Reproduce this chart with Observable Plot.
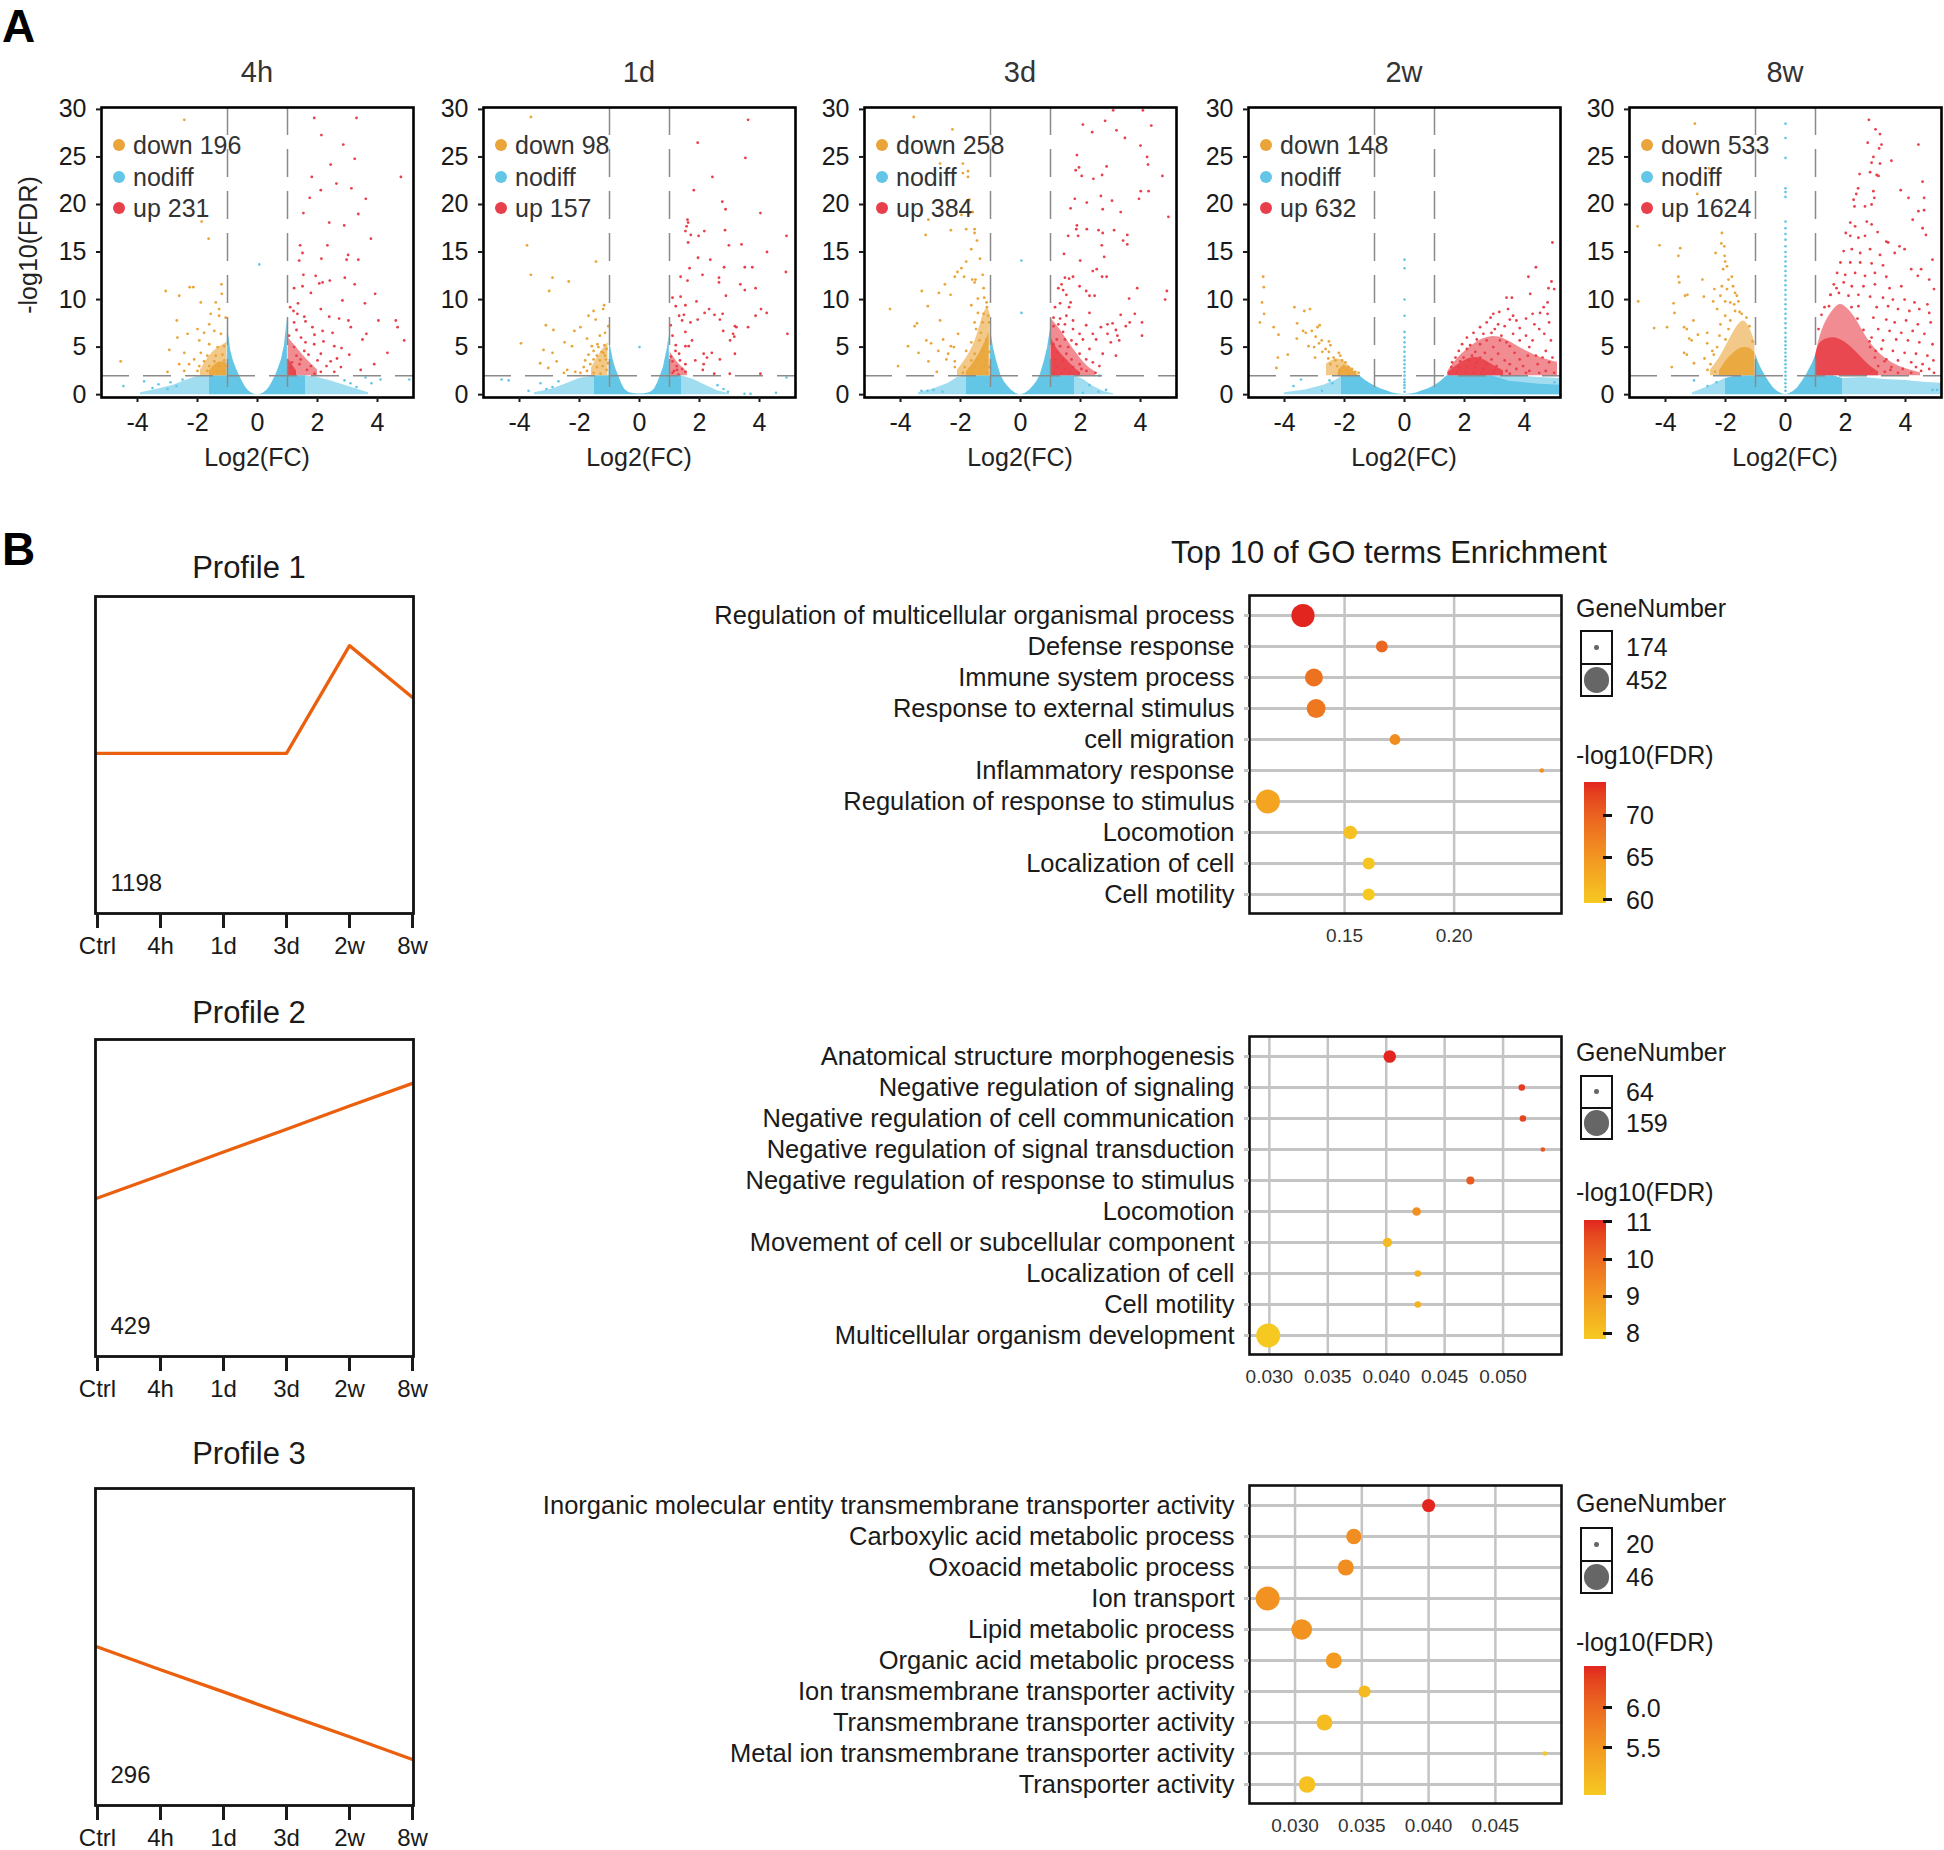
<!DOCTYPE html>
<html><head><meta charset="utf-8">
<script src="https://cdn.jsdelivr.net/npm/d3@7"></script>
<script src="https://cdn.jsdelivr.net/npm/@observablehq/plot@0.6"></script>
<style>
body{margin:0;background:#fff;font-family:"Liberation Sans",Arial,Helvetica,sans-serif;}
#root{position:relative;width:1944px;height:1850px;overflow:hidden;background:#fff;}
</style></head>
<body><div id="root"></div>
<script>
// ---------------- DATA: volcano panels ----------------
const panelNames = ["4h","1d","3d","2w","8w"];
const downCounts = [196, 98, 258, 148, 533];
const upCounts = [231, 157, 384, 632, 1624];

// dense nodiff region: [log2FC, upper -log10FDR]
const env4h = [[-1.6,2.0],[-1.3,2.0],[-1.01,2.0],[-1.0,7.0],[-0.95,6.0],[-0.89,4.6],[-0.8,3.5],[-0.7,2.7],[-0.61,2.07],[-0.5,1.35],[-0.4,0.8],[-0.3,0.42],[-0.2,0.18],[-0.1,0.05],[0,0],[0.1,0.05],[0.2,0.18],[0.3,0.42],[0.4,0.8],[0.5,1.35],[0.61,2.07],[0.7,2.8],[0.8,3.7],[0.9,5.2],[0.94,6.4],[0.99,7.9],[1.0,2.0],[1.3,2.0],[1.6,2.0]];
const env1d = [[-1.5,2.0],[-1.01,2.0],[-1.0,5.7],[-0.93,4.5],[-0.88,3.7],[-0.8,2.8],[-0.71,2.1],[-0.6,1.2],[-0.5,0.6],[-0.4,0.3],[-0.3,0.18],[-0.15,0.1],[0,0.08],[0.15,0.1],[0.3,0.18],[0.4,0.3],[0.5,0.6],[0.6,1.2],[0.71,2.1],[0.8,2.9],[0.85,3.7],[0.92,4.7],[0.99,6.2],[1.0,2.0],[1.4,2.0]];
const env3d = [[-1.8,2.0],[-1.01,2.0],[-1.0,6.9],[-0.9,4.9],[-0.8,3.6],[-0.66,2.1],[-0.55,1.4],[-0.44,0.94],[-0.3,0.45],[-0.15,0.12],[0,0],[0.15,0.12],[0.3,0.45],[0.44,0.94],[0.55,1.4],[0.66,2.1],[0.8,3.6],[0.9,4.9],[1.0,6.9],[1.01,2.0],[1.8,2.0]];
const env2w = [[-2.1,1.9],[-1.9,2.0],[-1.5,2.0],[-1.3,1.5],[-1.1,1.1],[-1.0,0.94],[-0.8,0.62],[-0.55,0.35],[-0.4,0.18],[-0.2,0.06],[0,0.02],[0.2,0.06],[0.4,0.18],[0.55,0.35],[0.8,0.62],[1.0,0.94],[1.2,1.35],[1.42,2.0],[2.9,2.0],[3.5,1.4],[4.5,1.1],[5.2,1.0]];
const env8w = [[-2.0,1.7],[-1.6,2.0],[-1.01,2.0],[-1.0,4.3],[-0.9,3.4],[-0.8,2.7],[-0.69,2.1],[-0.55,1.35],[-0.4,0.7],[-0.25,0.3],[-0.1,0.06],[0,0.02],[0.1,0.06],[0.25,0.3],[0.4,0.7],[0.55,1.35],[0.7,2.1],[0.8,2.7],[0.9,3.3],[1.0,4.1],[1.01,2.0],[1.6,2.0],[1.9,1.7]];

// sparser nodiff band: [log2FC, upper -log10FDR, side]
const halo4h = [[-3.9,0.2,"L"],[-3.3,0.6,"L"],[-2.8,1.0,"L"],[-2.4,1.5,"L"],[-2.0,1.9,"L"],[-1.6,2.0,"L"],[1.6,2.0,"R"],[2.0,1.8,"R"],[2.4,1.5,"R"],[2.8,1.1,"R"],[3.2,0.7,"R"],[3.7,0.2,"R"]];
const halo1d = [[-3.5,0.2,"L"],[-2.9,0.6,"L"],[-2.4,1.2,"L"],[-2.0,1.7,"L"],[-1.5,2.0,"L"],[1.4,2.0,"R"],[1.8,1.6,"R"],[2.2,1.0,"R"],[2.6,0.4,"R"],[3.0,0.1,"R"]];
const halo3d = [[-3.4,0.2,"L"],[-2.9,0.6,"L"],[-2.4,1.2,"L"],[-2.1,1.8,"L"],[-1.8,2.0,"L"],[1.8,2.0,"R"],[2.1,1.6,"R"],[2.4,0.9,"R"],[2.8,0.3,"R"],[3.1,0.1,"R"]];
const halo2w = [[-4.0,0.2,"L"],[-3.3,0.5,"L"],[-2.7,1.0,"L"],[-2.3,1.5,"L"],[-2.1,1.9,"L"],[2.9,2.0,"R"],[3.5,2.0,"R"],[4.0,1.9,"R"],[4.5,1.8,"R"],[5.2,1.7,"R"]];
const halo8w = [[-3.1,0.2,"L"],[-2.6,0.8,"L"],[-2.2,1.4,"L"],[-2.0,1.7,"L"],[1.9,1.7,"R"],[2.6,1.8,"R"],[3.3,1.6,"R"],[4.0,1.5,"R"],[4.6,1.3,"R"],[5.2,1.2,"R"]];

// isolated nodiff genes
const blue4h = [[-4.47,0.9],[-3.78,1.4],[-3.5,0.7],[-3.3,1.1],[-3.0,0.6],[-2.9,1.3],[-2.7,0.9],[-2.5,1.6],[2.9,1.5],[3.1,1.2],[3.3,0.8],[3.6,1.8],[3.8,1.2],[4.1,1.6],[5.06,1.6],[0.06,13.7]];
const blue1d = [[-4.6,1.6],[-4.36,1.5],[-3.7,0.4],[-3.3,1.2],[-3.1,0.6],[-2.9,0.8],[-2.7,1.4],[2.6,1.0],[2.8,0.6],[2.95,0.3],[3.5,0.1],[3.7,0.1],[4.55,0.2],[4.9,1.8],[0.0,5.0]];
const blue3d = [[-3.3,0.4],[-3.1,0.4],[-2.9,0.5],[-2.6,0.3],[2.08,0.2],[2.3,1.0],[2.6,0.3],[2.85,0.5],[2.63,2.0],[0.03,14.1],[0.03,8.6]];
const blue2w = [[-3.7,0.9],[-3.45,1.6],[-2.75,0.4],[-2.5,1.5],[-2.4,1.2],[0,0.3],[0,0.7],[0,1.0],[0,1.3],[0,1.6],[0,2.0],[0,2.4],[0,2.8],[0,3.2],[0,3.6],[0,4.0],[0,4.5],[0,5.0],[0,5.5],[0,6.0],[0,6.6],[0,8.3],[0,10.0],[0,13.3],[0,14.2],[5.0,1.3],[4.95,0.8]];
const blue8w = [[-3.05,1.5],[-2.6,0.9],[-2.3,1.3],[0,0.4],[0,0.8],[0,1.2],[0,1.6],[0,2.0],[0,2.4],[0,2.8],[0,3.2],[0,3.6],[0,4.0],[0,4.4],[0,4.8],[0,5.2],[0,5.6],[0,6.0],[0,6.5],[0,7.0],[0,7.5],[0,8.0],[0,8.5],[0,9.0],[0,9.5],[0,10.0],[0,10.5],[0,11.0],[0,11.5],[0,12.0],[0,12.5],[0,13.0],[0,13.5],[0,14.0],[0,14.5],[0,15.0],[0,15.6],[0,16.3],[0,16.9],[0,17.5],[0,18.2],[0,20.8],[0,21.3],[0,21.7],[0,24.9],[0,27.0],[0,28.5],[4.9,0.5],[5.05,0.5]];

// dense cores of significant genes: [log2FC, low, high]  (inner = very dense, haze = moderately dense)
const downCore4h = [[-1.6,2.0,2.5],[-1.4,2.0,3.3],[-1.2,2.0,3.5],[-1.02,2.0,3.3]];
const downHaze4h = [[-1.9,2.0,2.6],[-1.6,2.0,4.2],[-1.3,2.0,5.0],[-1.02,2.0,5.5]];
const upCore4h = [[1.02,2.0,3.8],[1.15,2.0,3.2],[1.3,2.0,2.5]];
const upHaze4h = [[1.02,2.0,6.0],[1.3,2.0,5.0],[1.6,2.0,3.8],[2.0,2.0,2.6]];
const downCore1d = [];
const downHaze1d = [[-1.6,2.0,2.8],[-1.3,2.0,4.5],[-1.05,2.0,5.5]];
const upCore1d = [];
const upHaze1d = [[1.02,2.0,4.5],[1.3,2.0,3.2],[1.6,2.0,2.4]];
const downCore3d = [[-1.8,2.0,2.4],[-1.5,2.0,3.6],[-1.25,2.0,5.0],[-1.05,2.0,6.5]];
const downHaze3d = [[-2.1,2.0,2.6],[-1.8,2.0,3.8],[-1.5,2.0,5.5],[-1.3,2.0,8.0],[-1.1,2.0,9.5],[-1.02,2.0,8.5]];
const upCore3d = [[1.02,2.0,6.0],[1.2,2.0,4.8],[1.5,2.0,3.8],[1.8,2.0,2.8],[2.0,2.0,2.3]];
const upHaze3d = [[1.02,2.0,8.0],[1.3,2.0,7.0],[1.6,2.0,5.5],[1.9,2.0,4.2],[2.2,2.0,3.0],[2.5,2.0,2.4]];
const downCore2w = [[-2.2,2.0,2.6],[-2.0,2.0,3.2],[-1.8,2.0,2.7],[-1.55,2.0,2.1]];
const downHaze2w = [[-2.6,2.0,3.2],[-2.3,2.0,3.9],[-2.0,2.0,3.6],[-1.6,2.0,2.2]];
const upCore2w = [[1.45,2.0,2.3],[1.7,2.0,3.0],[2.0,2.0,3.6],[2.3,2.0,4.0],[2.6,2.0,3.8],[2.9,2.0,3.2],[3.3,2.0,2.5]];
const upHaze2w = [[1.45,2.0,2.5],[1.8,2.0,4.0],[2.1,2.0,4.8],[2.5,2.0,5.8],[2.9,2.0,6.2],[3.3,2.0,6.0],[3.8,2.0,5.0],[4.3,2.0,4.2],[4.8,2.0,3.6],[5.1,2.0,3.4]];
const downCore8w = [[-2.2,2.0,2.5],[-2.0,2.0,3.5],[-1.8,2.0,4.2],[-1.5,2.0,5.0],[-1.2,2.0,5.0],[-1.02,2.0,4.4]];
const downHaze8w = [[-2.5,2.0,2.6],[-2.2,2.0,3.8],[-2.0,2.0,5.0],[-1.8,2.0,6.2],[-1.6,2.0,7.3],[-1.4,2.0,8.0],[-1.2,2.0,7.2],[-1.02,2.0,5.5]];
const upCore8w = [[1.0,2.0,4.0],[1.1,2.0,5.5],[1.4,2.0,6.0],[1.8,2.0,6.0],[2.2,2.0,5.0],[2.5,2.0,4.0],[2.8,2.0,3.0],[3.1,2.0,2.4]];
const upHaze8w = [[1.0,2.0,4.1],[1.2,2.0,6.9],[1.5,2.0,8.6],[1.8,2.0,9.7],[2.0,2.0,9.3],[2.3,2.0,8.3],[2.6,2.0,6.5],[2.9,2.0,5.1],[3.2,2.0,4.1],[3.6,2.0,3.2],[4.0,2.0,2.7],[4.5,2.0,2.3]];

// significant genes [log2FC, -log10FDR]
const down4h = [[-2.44,28.9],[-1.86,18.2],[-1.63,16.4],[-3.06,10.9],[-2.26,11.3],[-2.14,11.3],[-2.61,10.4],[-1.2,11.6],[-1.19,10.6],[-1.39,9.7],[-1.89,9.7],[-1.28,9.0],[-1.56,8.5],[-1.06,8.1],[-2.69,7.8],[-1.28,8.3],[-1.61,7.4],[-2.0,6.9],[-2.33,6.4],[-1.78,6.5],[-1.44,6.7],[-1.22,6.4],[-2.67,6.0],[-1.94,5.7],[-1.61,5.3],[-1.33,5.0],[-1.11,5.1],[-2.94,4.7],[-2.44,4.4],[-1.89,4.4],[-1.67,4.1],[-1.39,4.1],[-1.17,4.2],[-2.11,3.7],[-1.78,3.5],[-1.44,3.5],[-1.11,3.6],[-2.61,3.2],[-2.28,3.2],[-1.94,3.0],[-1.61,3.0],[-1.28,3.0],[-1.0,3.0],[-3.0,2.4],[-2.44,2.5],[-2.0,2.5],[-1.67,2.5],[-1.33,2.5],[-1.11,2.4],[-4.56,3.5]];
const up4h = [[1.89,29.1],[3.3,29.1],[2.13,27.3],[2.86,26.3],[3.24,24.8],[2.44,24.2],[1.81,22.9],[4.78,22.9],[2.63,22.2],[3.13,21.7],[2.11,21.5],[1.74,20.7],[3.61,20.6],[1.53,19.1],[3.36,19.0],[2.39,18.1],[2.89,17.8],[3.78,16.4],[1.42,15.7],[2.33,15.7],[1.5,14.9],[3.02,14.7],[3.36,14.2],[2.13,14.3],[1.39,14.1],[2.97,14.2],[1.53,12.6],[1.94,12.5],[2.91,12.3],[2.41,12.0],[2.06,11.7],[2.17,11.8],[3.24,11.6],[1.5,11.4],[1.22,11.2],[1.78,10.7],[3.92,10.6],[2.83,9.9],[3.58,9.6],[1.09,9.2],[2.11,9.0],[1.33,8.5],[1.56,8.2],[2.39,8.2],[2.72,8.0],[3.03,7.8],[4.03,7.8],[4.61,7.8],[4.67,7.1],[1.22,7.6],[1.83,7.1],[2.17,6.7],[3.11,7.1],[3.63,6.4],[1.89,5.3],[2.56,5.1],[4.89,5.7],[3.5,5.8],[1.22,5.0],[1.56,4.6],[2.11,4.3],[4.33,4.4],[3.06,4.2],[1.44,3.7],[2.44,3.5],[3.89,3.2],[1.11,2.8],[1.78,3.0],[2.78,2.9],[3.44,2.6],[1.22,2.3],[2.11,2.4],[2.56,2.4],[1.3,6.8],[1.45,6.0],[1.6,5.5],[1.7,4.2],[1.3,4.1],[1.15,3.4],[1.4,3.2],[1.65,2.6],[1.9,2.2],[1.05,6.2],[1.2,8.8],[1.35,9.6],[1.6,7.7],[1.9,6.3],[2.0,3.6],[2.3,3.0],[2.65,3.8],[2.2,5.6],[2.5,6.5],[2.8,4.9]];
const down1d = [[-3.62,29.2],[-3.75,15.7],[-3.62,12.6],[-2.9,12.3],[-2.36,11.9],[-1.45,14.0],[-3.01,10.9],[-1.18,9.4],[-1.7,8.3],[-1.53,8.8],[-1.46,7.9],[-1.21,9.0],[-3.12,7.3],[-2.87,6.8],[-2.17,6.7],[-1.97,7.1],[-1.04,7.2],[-1.75,5.9],[-1.32,6.2],[-1.15,6.5],[-3.95,5.4],[-2.5,5.5],[-2.25,5.1],[-1.59,5.1],[-1.37,5.0],[-1.17,5.2],[-3.2,4.7],[-2.9,4.4],[-1.53,4.6],[-1.26,4.5],[-1.1,4.8],[-1.7,4.2],[-1.42,4.1],[-1.15,4.1],[-3.31,3.3],[-2.76,3.5],[-1.81,3.6],[-1.53,3.7],[-1.32,3.6],[-1.12,3.7],[-3.04,2.8],[-2.41,2.6],[-1.86,2.9],[-1.64,3.2],[-1.42,2.9],[-1.23,3.0],[-1.1,2.6],[-2.52,2.3],[-2.14,2.4],[-1.97,2.3],[-1.75,2.5],[-1.53,2.3],[-1.3,2.2],[-1.05,3.3],[-1.2,4.4],[-1.4,5.3]];
const up1d = [[3.62,28.9],[1.94,26.5],[3.53,24.9],[2.43,22.9],[1.81,21.5],[2.76,20.3],[2.87,19.5],[4.03,19.1],[1.6,18.4],[1.62,18.1],[1.57,17.7],[1.53,17.2],[1.71,16.8],[2.16,17.2],[2.85,17.3],[1.97,16.7],[4.9,16.7],[1.62,16.0],[2.98,15.7],[3.4,15.8],[4.25,15.0],[1.95,14.4],[2.36,14.2],[1.67,13.3],[2.82,13.4],[3.51,13.4],[3.76,13.4],[4.88,12.9],[1.37,12.4],[2.1,12.6],[1.6,12.0],[2.65,12.3],[2.65,11.8],[3.36,11.6],[3.51,11.0],[3.87,11.2],[2.88,10.4],[1.1,10.2],[1.37,10.3],[1.21,9.3],[1.53,9.4],[1.9,9.8],[1.32,8.3],[1.48,8.4],[2.17,8.6],[2.32,9.0],[2.5,8.4],[2.77,8.5],[4.05,9.0],[4.24,8.6],[3.87,8.3],[1.42,7.8],[1.7,7.6],[1.94,7.9],[1.04,7.3],[2.68,7.9],[3.18,7.2],[3.23,7.1],[3.62,7.1],[1.1,6.2],[1.53,6.6],[2.79,6.7],[3.12,6.4],[4.93,6.4],[1.75,5.7],[3.02,5.7],[3.16,6.1],[1.21,5.2],[1.53,5.1],[1.64,5.1],[1.32,4.3],[2.14,4.3],[2.41,4.4],[3.18,4.3],[1.1,3.5],[1.86,3.6],[2.25,3.9],[2.68,3.7],[1.24,3.0],[1.53,3.2],[2.14,3.2],[1.15,2.5],[1.42,2.7],[1.53,2.4],[2.11,2.6],[2.49,2.2],[3.01,2.2],[4.03,2.2],[1.1,2.3],[1.3,2.1],[1.05,4.0],[1.2,4.6],[1.35,3.6],[1.25,2.6]];
const down3d = [[-3.56,29.2],[-2.27,27.9],[-2.68,24.3],[-1.92,24.3],[-1.75,23.5],[-1.92,23.3],[-1.75,22.9],[-1.7,20.5],[-1.97,18.9],[-1.7,19.1],[-1.59,19.2],[-3.07,18.4],[-1.81,17.4],[-1.53,17.4],[-2.32,17.3],[-3.16,16.8],[-1.53,17.0],[-1.45,16.2],[-1.64,15.3],[-1.35,14.3],[-1.81,14.0],[-1.97,13.3],[-2.1,12.9],[-2.19,12.4],[-1.88,12.4],[-1.26,12.6],[-1.61,12.1],[-1.5,12.1],[-1.53,11.8],[-2.52,11.6],[-1.23,11.2],[-3.29,10.9],[-4.35,9.0],[-2.33,10.5],[-2.72,10.7],[-1.21,10.2],[-1.13,9.7],[-1.42,10.1],[-3.09,9.3],[-1.64,9.4],[-1.12,9.2],[-2.68,7.8],[-3.45,7.5],[-3.53,7.2],[-1.42,8.6],[-1.23,8.5],[-1.07,8.3],[-1.53,7.6],[-1.26,7.6],[-1.04,7.6],[-2.08,6.4],[-1.48,6.9],[-1.32,6.5],[-3.75,5.1],[-3.14,5.7],[-2.98,5.4],[-2.58,5.8],[-2.32,5.1],[-2.22,5.0],[-1.64,5.5],[-1.37,5.7],[-1.13,5.8],[-3.4,4.4],[-2.74,4.6],[-2.41,4.3],[-1.81,4.6],[-1.53,4.3],[-1.26,4.6],[-1.04,4.5],[-2.47,3.7],[-2.19,3.5],[-1.64,3.6],[-1.42,3.7],[-1.15,3.6],[-4.08,3.0],[-3.07,3.5],[-2.19,2.9],[-1.86,2.9],[-1.53,2.9],[-1.23,3.0],[-1.04,2.9],[-2.79,2.4],[-1.92,2.3],[-1.64,2.3],[-1.37,2.3],[-1.1,2.3]];
const up3d = [[3.09,29.9],[4.08,29.9],[2.08,28.4],[2.82,28.8],[2.39,27.6],[3.2,27.8],[4.36,28.3],[3.48,27.0],[4.0,26.2],[4.22,25.0],[4.25,24.2],[1.88,25.2],[1.95,23.9],[1.84,23.6],[2.04,23.0],[2.43,22.7],[2.72,23.1],[2.87,24.0],[4.73,23.0],[4.01,21.4],[4.27,21.4],[3.95,20.6],[2.68,20.9],[1.81,20.6],[3.05,20.4],[2.21,20.2],[1.67,19.6],[2.74,19.5],[3.34,19.2],[4.93,18.7],[1.88,17.8],[2.21,17.4],[1.86,17.4],[2.6,17.3],[3.12,17.3],[2.74,17.0],[3.56,16.8],[1.59,16.7],[1.92,16.7],[3.42,16.2],[3.56,15.8],[2.71,15.7],[1.99,14.1],[2.79,14.5],[1.45,14.8],[2.41,13.0],[2.54,13.2],[2.72,12.4],[2.87,12.4],[1.48,12.3],[1.62,12.2],[1.75,12.4],[1.37,11.6],[1.26,11.2],[1.42,11.0],[3.89,11.2],[1.53,10.5],[1.97,11.4],[2.19,10.9],[2.3,10.4],[2.47,10.4],[4.88,10.9],[4.82,10.0],[3.62,10.1],[1.67,9.7],[1.32,9.6],[1.15,9.2],[1.62,9.2],[3.81,8.5],[2.3,8.6],[3.34,8.4],[4.05,7.6],[1.1,8.1],[1.32,8.0],[1.53,8.3],[1.75,7.8],[1.1,7.2],[1.26,7.4],[1.48,7.4],[2.19,7.3],[2.68,7.1],[2.9,7.4],[3.07,7.5],[3.51,7.2],[3.64,7.6],[3.18,6.8],[4.05,6.2],[1.42,6.6],[1.75,6.9],[1.97,6.4],[2.41,6.4],[2.9,6.4],[3.23,6.2],[1.21,5.8],[1.48,5.8],[1.7,5.7],[2.08,5.8],[2.52,5.8],[3.01,5.5],[3.29,5.7],[1.1,5.3],[1.32,5.1],[1.59,5.0],[1.86,5.3],[2.3,4.8],[2.74,4.3],[3.18,4.1],[1.23,4.4],[1.53,4.3],[1.97,4.3],[2.19,3.7],[2.41,3.4],[2.63,3.0],[1.15,3.7],[1.42,3.6],[1.7,3.7],[1.97,3.2],[1.21,2.9],[1.48,2.7],[1.75,2.9],[2.03,2.7],[1.12,2.3],[1.37,2.3],[1.64,2.3],[1.92,2.3],[2.2,2.5],[2.5,2.3]];
const down2w = [[-4.71,12.4],[-4.69,11.3],[-4.75,9.7],[-4.68,8.5],[-4.82,7.6],[-4.36,7.1],[-4.2,6.3],[-4.22,3.9],[-4.27,2.8],[-3.89,4.2],[-3.67,9.2],[-3.58,7.5],[-3.59,5.9],[-3.34,8.8],[-3.15,9.0],[-3.38,6.7],[-3.29,6.5],[-3.09,6.7],[-2.9,7.1],[-2.83,7.3],[-2.96,6.1],[-3.2,5.1],[-3.01,5.0],[-2.85,5.4],[-2.76,5.7],[-2.52,5.6],[-2.47,5.2],[-2.63,4.8],[-2.74,4.5],[-2.98,3.9],[-2.52,4.5],[-2.19,4.4],[-2.14,4.1],[-2.36,3.9],[-2.54,3.8],[-2.47,3.2],[-2.3,3.6],[-2.08,3.6],[-1.97,3.4],[-2.25,3.0],[-2.03,3.0],[-1.86,2.9],[-1.75,2.7],[-2.14,2.5],[-1.92,2.5],[-1.64,2.4],[-1.53,2.3],[-2.19,2.2],[-1.86,2.2]];
const up2w = [[4.93,16.0],[4.38,13.4],[4.13,12.4],[4.9,11.9],[4.8,11.2],[4.99,11.1],[4.19,10.6],[3.4,10.2],[3.58,10.2],[4.77,9.7],[4.64,9.2],[3.45,9.0],[3.16,8.7],[2.96,8.5],[3.62,8.3],[4.27,8.5],[4.52,8.6],[4.77,8.5],[2.87,8.1],[4.05,8.0],[3.73,7.8],[3.51,7.9],[2.74,7.6],[3.12,7.4],[4.33,7.4],[4.82,7.6],[2.52,7.1],[3.01,6.9],[3.34,7.2],[3.84,7.0],[4.49,6.9],[2.3,6.5],[2.63,6.4],[2.9,6.5],[3.23,6.2],[3.62,6.4],[4.05,6.2],[4.66,6.4],[2.08,6.0],[2.41,5.8],[2.74,5.7],[3.18,5.7],[3.4,5.5],[3.84,5.7],[4.27,5.7],[4.88,5.7],[1.92,5.3],[2.19,5.2],[2.52,5.3],[2.96,5.0],[3.51,5.1],[4.16,5.0],[4.71,4.6],[1.81,4.6],[2.08,4.8],[2.36,4.5],[2.68,4.4],[3.12,4.3],[3.67,4.4],[4.11,4.1],[4.38,4.1],[4.6,3.9],[4.93,3.9],[1.7,3.9],[1.97,3.9],[2.25,4.1],[2.52,3.9],[2.9,3.7],[3.34,3.6],[3.84,3.7],[1.59,3.4],[1.86,3.5],[2.14,3.6],[2.41,3.4],[2.74,3.2],[3.07,3.0],[3.51,3.2],[3.95,3.0],[4.44,3.2],[4.82,3.4],[1.56,2.9],[1.81,2.9],[2.08,3.0],[2.36,2.9],[2.63,2.7],[3.01,2.6],[3.4,2.5],[3.73,2.7],[4.16,2.5],[4.71,2.5],[4.99,2.3],[1.48,2.3],[1.75,2.4],[2.03,2.3],[2.3,2.3],[2.58,2.2],[2.96,2.3],[3.51,2.2],[4.05,2.3],[4.49,2.3]];
const down8w = [[-3.02,28.5],[-2.55,23.8],[-2.94,21.1],[-2.63,18.8],[-4.93,17.7],[-4.91,9.8],[-4.2,15.7],[-4.38,7.0],[-3.95,7.1],[-3.79,2.9],[-3.51,15.4],[-3.57,14.6],[-3.57,12.4],[-3.54,11.8],[-3.35,10.4],[-3.27,10.5],[-3.73,9.6],[-3.7,8.6],[-3.38,7.1],[-3.29,6.9],[-3.21,5.9],[-3.13,5.7],[-3.07,7.8],[-3.38,4.4],[-3.29,4.2],[-3.05,3.3],[-2.92,6.3],[-2.77,12.1],[-2.72,10.3],[-2.61,6.5],[-2.61,5.4],[-2.44,4.6],[-2.39,4.2],[-2.28,5.0],[-2.37,11.1],[-2.41,9.8],[-2.28,9.0],[-2.17,10.4],[-2.12,17.0],[-2.14,15.9],[-2.04,15.6],[-2.33,14.9],[-2.03,14.6],[-2.01,14.0],[-2.08,13.2],[-1.95,13.5],[-1.9,12.1],[-1.79,12.4],[-1.75,11.4],[-1.95,11.1],[-2.12,11.4],[-1.68,10.7],[-1.62,10.4],[-2.01,9.8],[-1.84,9.7],[-1.71,9.5],[-1.57,9.8],[-1.68,8.8],[-1.53,8.7],[-1.46,8.5],[-2.01,8.3],[-1.84,7.8],[-2.17,7.4],[-1.9,6.9],[-2.5,3.2],[-2.6,2.6],[-2.7,3.8],[-2.2,6.2],[-2.0,5.8],[-2.35,2.4],[-1.2,7.2],[-1.1,5.6],[-1.3,8.1]];
const up8w = [[2.78,28.9],[3.0,27.9],[3.15,27.4],[2.74,26.5],[3.2,26.3],[3.12,25.9],[4.43,26.3],[2.93,25.0],[2.87,24.4],[3.15,24.3],[3.53,24.6],[2.47,23.2],[2.82,23.4],[3.04,23.1],[3.1,23.0],[4.57,22.4],[2.42,21.7],[2.36,21.1],[2.27,20.5],[2.93,21.4],[2.96,20.7],[3.84,21.5],[4.1,20.7],[4.62,20.7],[2.3,19.8],[2.65,19.8],[2.87,20.0],[4.43,19.3],[4.62,19.4],[4.24,18.4],[2.16,18.1],[2.32,17.7],[2.71,18.2],[2.87,17.9],[3.07,17.1],[4.57,17.5],[4.68,16.8],[2.01,17.0],[2.16,16.7],[2.43,16.5],[2.65,16.7],[3.36,16.1],[3.42,16.0],[3.8,15.6],[3.97,15.3],[1.94,15.1],[2.21,15.3],[2.49,14.9],[2.82,15.3],[3.15,14.7],[3.64,14.9],[4.9,14.2],[1.83,13.9],[2.16,13.9],[2.49,13.9],[2.87,13.8],[3.25,13.6],[4.19,13.2],[4.52,13.2],[1.72,12.8],[1.99,12.6],[2.32,12.8],[2.65,12.5],[2.98,12.8],[3.36,12.4],[4.41,12.5],[4.79,12.1],[1.61,11.6],[1.94,11.8],[2.21,11.4],[2.6,11.4],[2.98,11.6],[3.47,11.2],[3.86,11.4],[4.95,11.1],[1.5,10.5],[1.78,10.7],[2.1,10.4],[2.43,10.5],[2.82,10.3],[3.25,10.2],[3.58,10.0],[3.97,10.0],[4.3,9.7],[4.73,9.5],[1.45,9.3],[2.43,9.3],[3.04,9.2],[3.42,9.3],[3.75,9.0],[4.13,8.8],[4.46,9.0],[4.79,8.6],[2.93,8.1],[3.36,7.9],[3.64,7.6],[4.02,7.8],[4.41,7.4],[4.84,7.6],[3.09,6.9],[3.47,6.7],[3.86,6.5],[4.24,6.7],[4.63,6.4],[2.87,6.0],[3.25,5.7],[3.69,5.8],[4.08,5.7],[4.46,5.5],[4.9,5.3],[2.82,5.0],[3.2,4.8],[3.58,4.6],[3.97,4.4],[4.35,4.3],[4.73,4.1],[4.93,3.6],[2.98,3.9],[3.36,3.7],[3.75,3.6],[4.19,3.4],[4.57,3.2],[3.09,3.0],[3.53,2.9],[3.91,2.7],[4.35,2.9],[4.79,2.7],[2.87,2.5],[3.31,2.4],[3.75,2.3],[4.19,2.3],[4.52,2.5],[4.95,2.3],[1.3,9.2],[1.5,10.5],[1.7,11.2],[1.2,8.4],[2.2,9.2],[2.4,8.0],[2.6,6.8],[2.8,5.6],[3.0,4.6],[3.3,3.5],[3.5,2.6],[1.1,6.9]];

// ---------------- DATA: profiles ----------------
const profileStages = ["Ctrl","4h","1d","3d","2w","8w"];
const profile1 = [0.03,0.03,0.03,0.03,2.07,1.09];
const profile2 = [0,0.43,0.87,1.3,1.74,2.17];
const profile3 = [0,-0.43,-0.85,-1.28,-1.7,-2.13];
const profileCounts = [1198, 429, 296];
const profileTitles = ["Profile 1","Profile 2","Profile 3"];

// ---------------- DATA: GO enrichment ----------------
const goTerms1 = ["Regulation of multicellular organismal process","Defense response","Immune system process","Response to external stimulus","cell migration","Inflammatory response","Regulation of response to stimulus","Locomotion","Localization of cell","Cell motility"];
const goRatio1 = [0.131,0.167,0.136,0.137,0.173,0.240,0.115,0.1526,0.161,0.161];
const goGenes1 = [429,213,307,324,202,174,452,235,217,217];
const goFdr1 = [73.9,69.5,68.5,68.0,66.0,65.5,63.5,60.5,60.0,59.6];
const goTerms2 = ["Anatomical structure morphogenesis","Negative regulation of signaling","Negative regulation of cell communication","Negative regulation of signal transduction","Negative regulation of response to stimulus","Locomotion","Movement of cell or subcellular component","Localization of cell","Cell motility","Multicellular organism development"];
const goRatio2 = [0.0403,0.0516,0.0517,0.0534,0.0472,0.0426,0.0401,0.0427,0.0427,0.0299];
const goGenes2 = [80,65,65,64,67,68,70,65,65,159];
const goFdr2 = [11.05,10.8,10.7,10.4,10.3,9.2,8.2,8.4,8.4,7.85];
const goTerms3 = ["Inorganic molecular entity transmembrane transporter activity","Carboxylic acid metabolic process","Oxoacid metabolic process","Ion transport","Lipid metabolic process","Organic acid metabolic process","Ion transmembrane transporter activity","Transmembrane transporter activity","Metal ion transmembrane transporter activity","Transporter activity"];
const goRatio3 = [0.0400,0.0344,0.0338,0.02795,0.0305,0.0329,0.0352,0.0322,0.0487,0.0309];
const goGenes3 = [25,28,29,46,38,29,24,29,20,30];
const goFdr3 = [6.53,5.6,5.6,5.55,5.55,5.45,5.1,5.05,4.9,5.0];
const goSizeBreaks = [[174,452],[64,159],[20,46]];
const goFdrTicks = [[60,65,70],[8,9,10,11],[5.5,6.0]];
const goFdrDomain = [[59.6,73.9],[7.85,11.05],[4.9,6.53]];
const goXDomain = [[0.1066,0.249],[0.0283,0.0550],[0.02659,0.04995]];
const goXTicks = [[0.15,0.20],[0.030,0.035,0.040,0.045,0.050],[0.030,0.035,0.040,0.045]];

// ---------------- STYLE ----------------
const FONT = '"Liberation Sans", Arial, Helvetica, sans-serif';
const ORANGE = "#E9A53A", BLUE = "#63C6E6", RED = "#E8404A";
const LINE = "#EA600E";
const GRID = "#C4C4C4";
const LOW = "#F6C921", HIGH = "#E2261F";
const INK = "#1a1a1a";
const DASH = {stroke: "#8a8a8a", strokeWidth: 1.5, strokeDasharray: "28,14"};

const root = document.getElementById("root");
function place(node, left, top) {
  node.style.position = "absolute"; node.style.left = left + "px"; node.style.top = top + "px";
  root.appendChild(node);
}
function label(text, x, y, o = {}) {
  const d = document.createElement("div");
  d.textContent = text;
  const size = o.size || 25, anchor = o.anchor || "middle";
  d.style.cssText = `position:absolute;left:${x}px;top:${y}px;font-size:${size}px;font-weight:${o.weight||"normal"};color:${o.color||INK};line-height:1;white-space:nowrap;font-family:${FONT};`;
  const tx = anchor === "middle" ? "-50%" : anchor === "end" ? "-100%" : "0";
  d.style.transform = `translate(${tx},-50%)` + (o.rotate ? ` rotate(${o.rotate}deg)` : "");
  root.appendChild(d);
  return d;
}
function box(x, y, w, h, css) {
  const d = document.createElement("div");
  d.style.cssText = `position:absolute;left:${x}px;top:${y}px;width:${w}px;height:${h}px;box-sizing:border-box;${css}`;
  root.appendChild(d);
  return d;
}

label("A", 2, 26, {size: 46, weight: "bold", anchor: "start", color: "#000"});
label("B", 2, 549, {size: 46, weight: "bold", anchor: "start", color: "#000"});

// ---------------- Volcano panels ----------------
const volcanoData = [
  {env: env4h, halo: halo4h, blue: blue4h, dCore: downCore4h, dHaze: downHaze4h, uCore: upCore4h, uHaze: upHaze4h, down: down4h, up: up4h},
  {env: env1d, halo: halo1d, blue: blue1d, dCore: downCore1d, dHaze: downHaze1d, uCore: upCore1d, uHaze: upHaze1d, down: down1d, up: up1d},
  {env: env3d, halo: halo3d, blue: blue3d, dCore: downCore3d, dHaze: downHaze3d, uCore: upCore3d, uHaze: upHaze3d, down: down3d, up: up3d},
  {env: env2w, halo: halo2w, blue: blue2w, dCore: downCore2w, dHaze: downHaze2w, uCore: upCore2w, uHaze: upHaze2w, down: down2w, up: up2w},
  {env: env8w, halo: halo8w, blue: blue8w, dCore: downCore8w, dHaze: downHaze8w, uCore: upCore8w, uHaze: upHaze8w, down: down8w, up: up8w}
];
const frameLeftA = [101, 483, 864, 1248, 1629];
const FX = d => d[0], FY = d => d[1];
const LO = d => d[1], HI = d => d[2];

volcanoData.forEach((v, i) => {
  const fl = frameLeftA[i];
  const chart = Plot.plot({
    width: 382, height: 380, marginLeft: 60, marginRight: 10, marginTop: 10, marginBottom: 80,
    style: {fontFamily: FONT, fontSize: "25px", color: INK, background: "transparent", overflow: "visible"},
    x: {domain: [-5.2, 5.2]},
    y: {domain: [-0.3, 30.2]},
    marks: [
      Plot.areaY(v.halo, {x: FX, y1: 0, y2: FY, z: d => d[2], fill: BLUE, fillOpacity: 0.6, curve: "linear"}),
      Plot.areaY(v.env, {x: FX, y1: 0, y2: FY, fill: BLUE, curve: "linear"}),
      Plot.dot(v.blue, {x: FX, y: FY, r: 1.3, fill: BLUE}),
      Plot.areaY(v.dHaze, {x: FX, y1: LO, y2: HI, fill: ORANGE, fillOpacity: 0.6, curve: "basis"}),
      Plot.areaY(v.uHaze, {x: FX, y1: LO, y2: HI, fill: RED, fillOpacity: 0.6, curve: "basis"}),
      Plot.areaY(v.dCore, {x: FX, y1: LO, y2: HI, fill: ORANGE, fillOpacity: 0.9, curve: "basis"}),
      Plot.areaY(v.uCore, {x: FX, y1: LO, y2: HI, fill: RED, fillOpacity: 0.9, curve: "basis"}),
      Plot.dot(v.down, {x: FX, y: FY, r: 1.4, fill: ORANGE}),
      Plot.dot(v.up, {x: FX, y: FY, r: 1.4, fill: RED}),
      Plot.ruleX([-1, 1], DASH),
      Plot.ruleY([2], DASH),
      Plot.frame({stroke: "#000", strokeWidth: 2.6}),
      Plot.axisX({ticks: [-4, -2, 0, 2, 4], tickSize: 5, tickPadding: 11, strokeWidth: 2, tickFormat: d => String(d), label: null}),
      Plot.axisY({ticks: [0, 5, 10, 15, 20, 25, 30], tickSize: 5, tickPadding: 10, strokeWidth: 2, tickFormat: d => String(d), label: null})
    ]
  });
  place(chart, fl - 60, 97);
  label(panelNames[i], fl + 156, 72, {size: 29, color: "#333"});
  label("Log2(FC)", fl + 156, 457, {size: 25, color: "#222"});
  const rows = [[ORANGE, "down " + downCounts[i]], [BLUE, "nodiff"], [RED, "up " + upCounts[i]]];
  [145, 177, 208].forEach((y, k) => {
    box(fl + 12, y - 6, 12, 12, `border-radius:50%;background:${rows[k][0]};`);
    label(rows[k][1], fl + 32, y, {size: 25, anchor: "start", color: "#333"});
  });
});
label("-log10(FDR)", 28, 245, {size: 25, rotate: -90, color: "#222"});

// ---------------- Profiles ----------------
const profileValues = [profile1, profile2, profile3];
const profileFrameTop = [596, 1039, 1488];
const profileTitleY = [567, 1012, 1453];
profileValues.forEach((vals, i) => {
  const rows = profileStages.map((s, k) => ({stage: s, value: vals[k]}));
  const chart = Plot.plot({
    width: 358, height: 362, marginLeft: 20, marginRight: 20, marginTop: 10, marginBottom: 35,
    style: {fontFamily: FONT, fontSize: "24px", color: INK, background: "transparent", overflow: "visible"},
    x: {type: "point", domain: profileStages, padding: 0},
    y: {domain: [-3, 3], axis: null},
    marks: [
      Plot.line(rows, {x: "stage", y: "value", stroke: LINE, strokeWidth: 3.3}),
      Plot.frame({stroke: "#111", strokeWidth: 2.8}),
      Plot.axisX({tickSize: 15, tickPadding: 8, strokeWidth: 3, label: null}),
      Plot.text([profileCounts[i]], {frameAnchor: "bottom-left", dx: 15, dy: -23, text: d => String(d), textAnchor: "start", fontSize: 24, fill: INK})
    ]
  });
  place(chart, 75, profileFrameTop[i] - 10);
  label(profileTitles[i], 249, profileTitleY[i], {size: 31, color: INK});
});

// ---------------- GO dot plots ----------------
const goSets = [
  {terms: goTerms1, ratio: goRatio1, genes: goGenes1, fdr: goFdr1},
  {terms: goTerms2, ratio: goRatio2, genes: goGenes2, fdr: goFdr2},
  {terms: goTerms3, ratio: goRatio3, genes: goGenes3, fdr: goFdr3}
];
const goFrameTop = [595, 1036, 1485];
const goLegend = [
  {sizeTitle: 608, boxTop: 630, cell: 32.5, fdrTitle: 755, barTop: 782, barBottom: 903},
  {sizeTitle: 1052, boxTop: 1075, cell: 31.5, fdrTitle: 1192, barTop: 1220, barBottom: 1339},
  {sizeTitle: 1503, boxTop: 1527, cell: 32.5, fdrTitle: 1642, barTop: 1666, barBottom: 1795}
];
const R_MIN = 2.3, R_MAX = 12;
label("Top 10 of GO terms Enrichment", 1389, 552, {size: 31, color: INK});

goSets.forEach((g, i) => {
  const [gmin, gmax] = goSizeBreaks[i];
  const rows = g.terms.map((t, k) => ({term: t, ratio: g.ratio[k], genes: g.genes[k], fdr: g.fdr[k]}));
  const decimals = i === 0 ? 2 : 3;
  const chart = Plot.plot({
    width: 1071, height: 378, marginLeft: 749, marginRight: 10, marginTop: 10, marginBottom: 50,
    style: {fontFamily: FONT, fontSize: "25.5px", color: INK, background: "transparent", overflow: "visible"},
    x: {domain: goXDomain[i]},
    y: {type: "point", domain: g.terms, padding: 0.6},
    color: {type: "linear", domain: goFdrDomain[i], range: [LOW, HIGH], interpolate: "lab"},
    r: {type: "pow", exponent: 0.5, domain: [0, gmax - gmin], range: [R_MIN, R_MAX]},
    marks: [
      Plot.gridX({ticks: goXTicks[i], stroke: GRID, strokeOpacity: 1, strokeWidth: 2.5}),
      Plot.ruleY(rows, {y: "term", stroke: GRID, strokeWidth: 3}),
      Plot.dot(rows, {x: "ratio", y: "term", r: d => d.genes - gmin, fill: "fdr"}),
      Plot.frame({stroke: "#111", strokeWidth: 2.6}),
      Plot.axisY({tickSize: 5, tickPadding: 10, stroke: GRID, strokeWidth: 3, fill: INK, fontSize: 25.5, label: null}),
      Plot.axisX({ticks: goXTicks[i], tickSize: 0, tickPadding: 15, tickFormat: d3.format("." + decimals + "f"), fontSize: 19, fill: "#333", label: null})
    ]
  });
  place(chart, 500, goFrameTop[i] - 10);

  // size legend
  const L = goLegend[i];
  label("GeneNumber", 1576, L.sizeTitle, {size: 25, anchor: "start"});
  const rScale = d3.scalePow().exponent(0.5).domain([0, gmax - gmin]).range([R_MIN, 12.8]);
  [gmin, gmax].forEach((val, k) => {
    const top = L.boxTop + k * L.cell;
    box(1580, top, 33, L.cell + 2, "border:2px solid #111;background:#fff;");
    const r = rScale(val - gmin);
    box(1596.5 - r, top + L.cell / 2 + 1 - r, 2 * r, 2 * r, "border-radius:50%;background:#666;");
    label(String(val), 1626, top + L.cell / 2 + 1, {size: 25, anchor: "start"});
  });

  // colour bar legend
  label("-log10(FDR)", 1576, L.fdrTitle, {size: 25, anchor: "start"});
  const interp = d3.interpolateLab(LOW, HIGH);
  const stops = d3.range(0, 11).map(k => `${interp(1 - k / 10)} ${k * 10}%`).join(",");
  box(1584, L.barTop, 22, L.barBottom - L.barTop, `background:linear-gradient(to bottom, ${stops});`);
  const cs = d3.scaleLinear().domain(goFdrDomain[i]).range([L.barBottom, L.barTop]);
  goFdrTicks[i].forEach(t => {
    box(1603, cs(t) - 1.5, 9, 3, "background:#111;");
    label(i === 2 ? t.toFixed(1) : String(t), 1626, cs(t), {size: 25, anchor: "start"});
  });
});
</script>
</body></html>
